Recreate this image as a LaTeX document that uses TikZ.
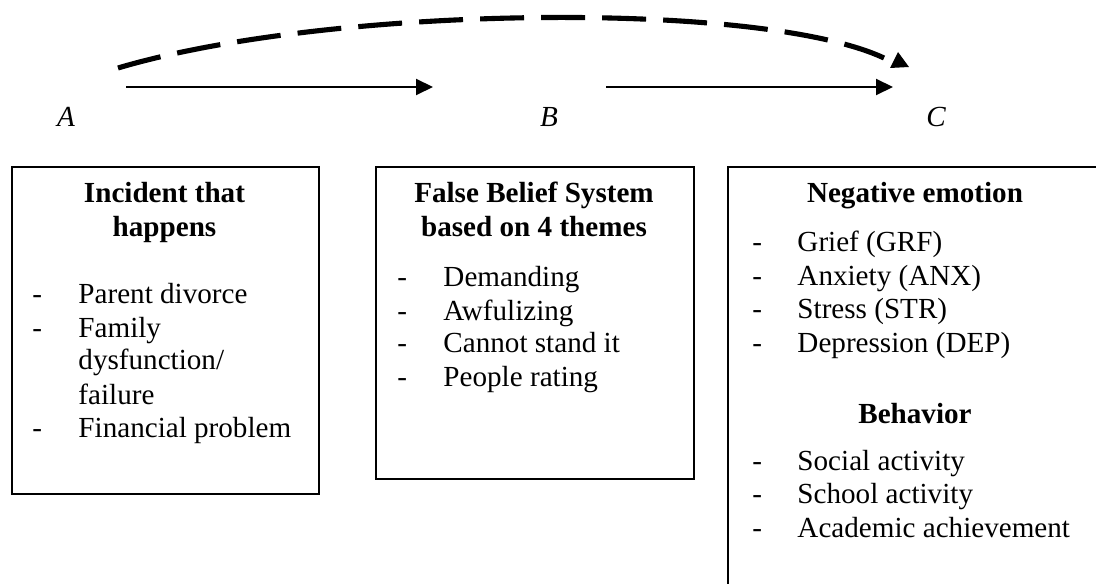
\documentclass[tikz,border=0pt]{standalone}
\usepackage{fontspec}
\setmainfont{Liberation Serif}
\usetikzlibrary{arrows.meta}
\newcommand\pxu{0.412pt}
\begin{document}
\begin{tikzpicture}[x=0.412pt,y=-0.412pt,
  font=\fontsize{12}{13.8}\selectfont,
  box/.style={draw, line width=0.8pt, inner sep=0pt, anchor=north west},
  ttl/.style={anchor=base, inner sep=0pt, font=\fontsize{12}{13.8}\selectfont\bfseries},
  itm/.style={anchor=base west, inner sep=0pt},
  lbl/.style={anchor=base, inner sep=0pt, font=\fontsize{12}{13.8}\selectfont\itshape},
  flow/.style={line width=0.8pt, -{Triangle[length=7pt,width=6.6pt]}},
  longdash/.style={line width=2.1pt, dash pattern=on 18.1pt off 7.05pt}]
\useasboundingbox (0,0) rectangle (1096,584);
\clip (0,0) rectangle (1096,584);

% labels
\node[lbl] (lA) at (66,127) {A};
\node[lbl] (lB) at (549,127) {B};
\node[lbl] (lC) at (936,127) {C};

% arrows
\coordinate (a1s) at (126,87);
\coordinate (a1e) at (433,87);
\coordinate (a2s) at (606,87);
\coordinate (a2e) at (893,87);
\draw[flow] (a1s) -- (a1e);
\draw[flow] (a2s) -- (a2e);

\coordinate (ds) at (118,68);
\coordinate (de) at (884,58);
\draw[longdash] (ds) .. controls (330,5) and (760,0) .. (de);
\fill (898,52) -- (909,67) -- (890,68) -- cycle;

% boxes
\node[box, minimum width=307*\pxu, minimum height=327*\pxu] (boxA) at (11,166) {};
\node[box, minimum width=318*\pxu, minimum height=312*\pxu] (boxB) at (375,166) {};
\node[box, minimum width=376*\pxu, minimum height=450*\pxu] (boxC) at (727,166) {};

% box A
\node[ttl] (tA1) at (164.5,203) {Incident that};
\node[ttl] (tA2) at (164.5,237) {happens};
\node[itm] (dA1) at (32,303) {-};
\node[itm] (iA1) at (78,303) {Parent divorce};
\node[itm] (dA2) at (32,337) {-};
\node[itm] (iA2) at (78,337) {Family};
\node[itm] (iA3) at (78,370) {dysfunction/};
\node[itm] (iA4) at (78,404) {failure};
\node[itm] (dA5) at (32,437) {-};
\node[itm] (iA5) at (78,437) {Financial problem};

% box B
\node[ttl] (tB1) at (534,203) {False Belief System};
\node[ttl] (tB2) at (534,237) {based on 4 themes};
\node[itm] (dB1) at (397,287) {-};
\node[itm] (iB1) at (443,287) {Demanding};
\node[itm] (dB2) at (397,320) {-};
\node[itm] (iB2) at (443,320) {Awfulizing};
\node[itm] (dB3) at (397,353) {-};
\node[itm] (iB3) at (443,353) {Cannot stand it};
\node[itm] (dB4) at (397,387) {-};
\node[itm] (iB4) at (443,387) {People rating};

% box C
\node[ttl] (tC1) at (915,203) {Negative emotion};
\node[itm] (dC1) at (752,252) {-};
\node[itm] (iC1) at (797,252) {Grief (GRF)};
\node[itm] (dC2) at (752,285) {-};
\node[itm] (iC2) at (797,285) {Anxiety (ANX)};
\node[itm] (dC3) at (752,318) {-};
\node[itm] (iC3) at (797,318) {Stress (STR)};
\node[itm] (dC4) at (752,352) {-};
\node[itm] (iC4) at (797,352) {Depression (DEP)};
\node[ttl] (tC2) at (915,423) {Behavior};
\node[itm] (dC5) at (752,470) {-};
\node[itm] (iC5) at (797,470) {Social activity};
\node[itm] (dC6) at (752,503) {-};
\node[itm] (iC6) at (797,503) {School activity};
\node[itm] (dC7) at (752,537) {-};
\node[itm] (iC7) at (797,537) {Academic achievement};
\end{tikzpicture}
\end{document}
